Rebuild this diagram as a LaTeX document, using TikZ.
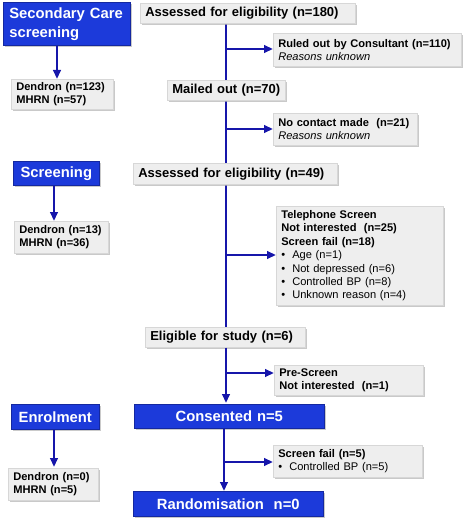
\documentclass[tikz,border=0pt]{standalone}
\usepackage{fontspec}
\setmainfont{Liberation Sans}
\usetikzlibrary{arrows.meta,shadows}
\definecolor{bfill}{RGB}{28,58,218}
\definecolor{bdraw}{RGB}{20,40,160}
\definecolor{lcol}{RGB}{22,22,170}
\definecolor{gfill}{RGB}{238,238,238}
\definecolor{gdraw}{RGB}{215,215,215}
\tikzset{
  gbox/.style={draw=gdraw, fill=gfill, line width=0.6pt, inner xsep=5pt, inner ysep=0pt,
    anchor=north west, align=left, font=\fontsize{11.1}{13.4}\selectfont\bfseries,
    drop shadow={shadow xshift=2pt, shadow yshift=-2pt, fill=black!30, opacity=0.7}},
  mbox/.style={gbox, font=\fontsize{13}{15}\selectfont\bfseries},
  bbox/.style={draw=bdraw, fill=bfill, line width=0.6pt, inner xsep=6pt, inner ysep=0pt,
    anchor=north west, text=white, font=\fontsize{14.8}{19}\selectfont\bfseries,
    drop shadow={shadow xshift=1.5pt, shadow yshift=-1.5pt, fill=black!35, opacity=0.6}},
  gw/.code={\pgfmathsetlengthmacro\mytw{#1-10pt}\tikzset{minimum width=#1, text width=\mytw}},
  bw/.code={\pgfmathsetlengthmacro\mytw{#1-12pt}\tikzset{minimum width=#1, text width=\mytw}},
  conn/.style={draw=lcol, line width=2.4pt},
  arr/.style={conn, -{Triangle[length=9pt,width=7.5pt]}},
}
\newcommand{\bul}[1]{\makebox[11pt][l]{\textbullet}#1}
\begin{document}
\begin{tikzpicture}[x=1pt,y=-1pt]
\useasboundingbox (0,0) rectangle (472,521);
\coordinate (main) at (226,0);
\coordinate (b1) at (226,49);
\coordinate (b2) at (226,129);
\coordinate (b3) at (226,255);
\coordinate (b4) at (226,373);
\coordinate (b5) at (224,462);

% left column
\node[bbox, bw=127pt, minimum height=43pt, align=left] (sec) at (3,2) {Secondary Care\\ screening};
\node[gbox, gw=102pt, minimum height=30pt] (d1) at (11,79) {Dendron (n=123)\\MHRN (n=57)};
\node[bbox, bw=86pt, minimum height=24pt, align=center] (scr) at (13,161) {Screening};
\node[gbox, gw=94pt, minimum height=32pt] (d2) at (14,221) {Dendron (n=13)\\MHRN (n=36)};
\node[bbox, bw=88pt, minimum height=25pt, align=center] (enr) at (11,404) {Enrolment};
\node[gbox, gw=90pt, minimum height=32pt] (d3) at (8,468) {Dendron (n=0)\\MHRN (n=5)};

% main column connectors
\draw[conn] (main |- 0,23) coordinate (t1) -- (main |- 0,327) coordinate (t2);
\draw[arr] (b1) -- (b1 -| 273,0);
\draw[arr] (b2) -- (b2 -| 273,0);
\draw[arr] (b3) -- (b3 -| 276,0);
\draw[arr] (b4) -- (b4 -| 274,0);

% main column boxes
\node[mbox, gw=215pt, minimum height=20pt] (a180) at (140,3) {Assessed for eligibility (n=180)};
\node[gbox, gw=188pt, minimum height=33pt] (r110) at (273,33) {Ruled out by Consultant (n=110)\\{\mdseries\itshape Reasons unknown}};
\node[mbox, gw=118pt, minimum height=20pt] (m70) at (167,80) {Mailed out (n=70)};
\node[gbox, gw=144pt, minimum height=32pt] (nc21) at (273,113) {No contact made\ \ (n=21)\\{\mdseries\itshape Reasons unknown}};
\node[mbox, gw=204pt, minimum height=21pt] (a49) at (133,163) {Assessed for eligibility (n=49)};
\node[gbox, gw=167pt, minimum height=99pt] (tel) at (276,206) {Telephone Screen\\Not interested\ \ (n=25)\\Screen fail (n=18)\\{\mdseries\bul{Age (n=1)}}\\{\mdseries\bul{Not depressed (n=6)}}\\{\mdseries\bul{Controlled BP (n=8)}}\\{\mdseries\bul{Unknown reason (n=4)}}};
\node[mbox, gw=160pt, minimum height=20pt] (el6) at (145,327) {Eligible for study (n=6)};
\node[gbox, gw=149pt, minimum height=30pt] (pre) at (274,365) {Pre-Screen\\Not interested\ \ (n=1)};
\node[bbox, bw=190pt, minimum height=24pt, align=center] (cons) at (134,404) {Consented n=5};
\node[gbox, gw=149pt, minimum height=32pt] (sf5) at (273,445) {Screen fail (n=5)\\{\mdseries\bul{Controlled BP (n=5)}}};
\node[bbox, bw=190pt, minimum height=25pt, align=center] (rand) at (133,491) {Randomisation\ \ n=0};

% arrows
\draw[arr] (sec.south -| 57,0) -- (d1.north -| 57,0);
\draw[arr] (scr.south -| 54,0) -- (d2.north -| 54,0);
\draw[arr] (enr.south -| 54,0) -- ([yshift=1pt]d3.north -| 54,0);
\draw[arr] (el6.south -| main) -- ([yshift=1pt]cons.north -| main);
\draw[conn] (cons.south -| 224,0) -- (b5);
\draw[arr] (b5) -- (rand.north -| 224,0);
\draw[arr] (b5) -- (sf5.west |- b5);
\end{tikzpicture}
\end{document}
